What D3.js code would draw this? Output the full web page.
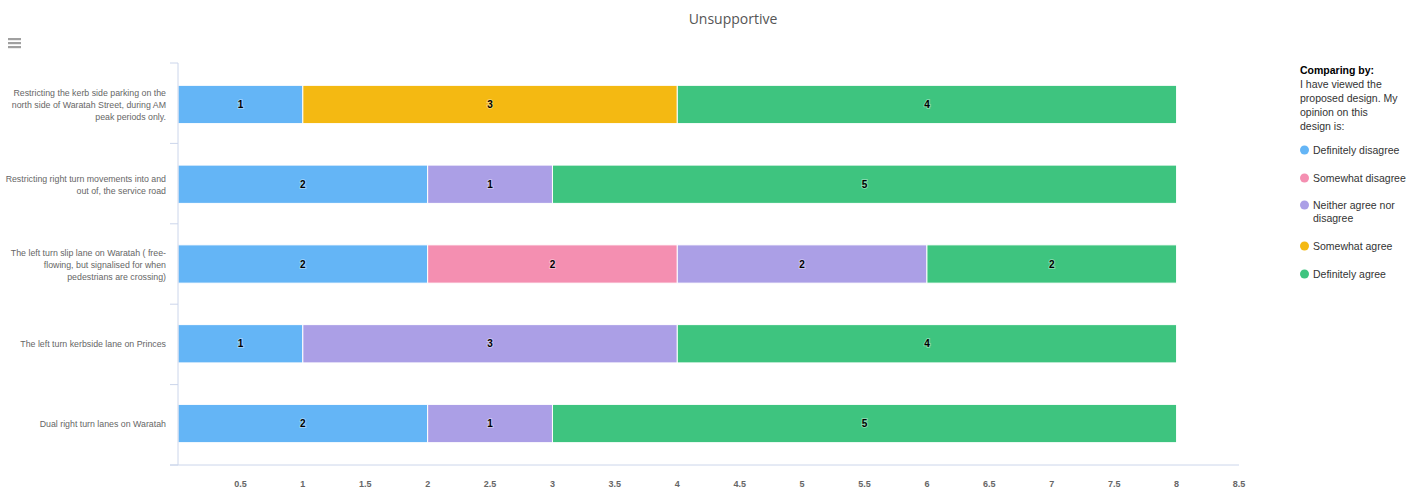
<!DOCTYPE html>
<html>
<head>
<meta charset="utf-8">
<script src="https://cdn.jsdelivr.net/npm/d3@7"></script>
<style>
  html, body { margin: 0; padding: 0; background: #fff; }
  svg { display: block; font-family: "Liberation Sans", Arial, sans-serif; }
</style>
</head>
<body>
<svg id="chart" width="1419" height="491"></svg>
<script>
// Survey statements (rows of the chart)
const categories = [
  "Restricting the kerb side parking on the north side of Waratah Street, during AM peak periods only.",
  "Restricting right turn movements into and out of, the service road",
  "The left turn slip lane on Waratah ( free-flowing, but signalised for when pedestrians are crossing)",
  "The left turn kerbside lane on Princes",
  "Dual right turn lanes on Waratah"
];
// Wrapped label lines for each statement
const categoryLines = [
  ["Restricting the kerb side parking on the", "north side of Waratah Street, during AM", "peak periods only."],
  ["Restricting right turn movements into and", "out of, the service road"],
  ["The left turn slip lane on Waratah ( free-", "flowing, but signalised for when", "pedestrians are crossing)"],
  ["The left turn kerbside lane on Princes"],
  ["Dual right turn lanes on Waratah"]
];

// Response series, in stacking order
const seriesNames = ["Definitely disagree", "Somewhat disagree", "Neither agree nor disagree", "Somewhat agree", "Definitely agree"];
const seriesColors = ["#64b5f6", "#f48fb1", "#ab9fe6", "#f4b912", "#3ec47f"];

const definitelyDisagree = [1, 2, 2, 1, 2];
const somewhatDisagree   = [0, 0, 2, 0, 0];
const neitherAgree       = [0, 1, 2, 3, 1];
const somewhatAgree      = [3, 0, 0, 0, 0];
const definitelyAgree    = [4, 5, 2, 4, 5];
const seriesValues = [definitelyDisagree, somewhatDisagree, neitherAgree, somewhatAgree, definitelyAgree];

const xTicks = [0.5, 1, 1.5, 2, 2.5, 3, 3.5, 4, 4.5, 5, 5.5, 6, 6.5, 7, 7.5, 8, 8.5];

const svg = d3.select("#chart");
const plot = { left: 178, right: 1239, top: 63, bottom: 465 };

const x = d3.scaleLinear().domain([0, 8.5]).range([plot.left, plot.right]);
const y = d3.scaleBand().domain(categories).range([plot.top, plot.bottom]).paddingInner(0.52).paddingOuter(0.28);

// Title
svg.append("text")
  .attr("x", 733).attr("y", 24)
  .attr("text-anchor", "middle")
  .style("font-family", "'Open Sans', sans-serif")
  .style("font-size", "14px")
  .attr("fill", "#555")
  .text("Unsupportive");

// Menu icon
const menu = svg.append("g").attr("transform", "translate(8,38)");
[0, 4, 8].forEach(dy => menu.append("rect")
  .attr("x", 0).attr("y", dy).attr("width", 13).attr("height", 2.2)
  .attr("fill", "#a0a0a0"));

// Stack the data
const rows = categories.map((c, i) => {
  const r = { category: c };
  seriesNames.forEach((s, j) => r[s] = seriesValues[j][i]);
  return r;
});
const stacked = d3.stack().keys(seriesNames)(rows);

// Bars
stacked.forEach((layer, j) => {
  const g = svg.append("g");
  layer.forEach((d, i) => {
    const v = d[1] - d[0];
    if (v <= 0) return;
    g.append("rect")
      .attr("x", x(d[0]))
      .attr("y", y(categories[i]))
      .attr("width", x(d[1]) - x(d[0]))
      .attr("height", y.bandwidth())
      .attr("fill", seriesColors[j])
      .attr("stroke", "#ffffff")
      .attr("stroke-width", 1);
    g.append("text")
      .attr("x", (x(d[0]) + x(d[1])) / 2)
      .attr("y", y(categories[i]) + y.bandwidth() / 2 + 3.5)
      .attr("text-anchor", "middle")
      .style("font-size", "10px")
      .style("font-weight", "bold")
      .attr("fill", "#000")
      .attr("stroke", "rgba(255,255,255,0.35)")
      .attr("stroke-width", 2)
      .attr("paint-order", "stroke")
      .text(v);
  });
});

// Category axis (left)
const step = (plot.bottom - plot.top) / categories.length;
const leftAxis = svg.append("g");
leftAxis.append("line")
  .attr("x1", plot.left).attr("x2", plot.left)
  .attr("y1", plot.top).attr("y2", plot.bottom)
  .attr("stroke", "#ccd6eb").attr("stroke-width", 1);
d3.range(categories.length + 1).forEach(k => {
  leftAxis.append("line")
    .attr("x1", plot.left - 8).attr("x2", plot.left)
    .attr("y1", plot.top + k * step).attr("y2", plot.top + k * step)
    .attr("stroke", "#ccd6eb").attr("stroke-width", 1);
});
categories.forEach((c, i) => {
  const lines = categoryLines[i];
  const lh = 12;
  const cy = y(c) + y.bandwidth() / 2;
  const t = leftAxis.append("text")
    .attr("text-anchor", "end")
    .style("font-size", "8.8px")
    .attr("fill", "#666");
  lines.forEach((ln, k) => {
    t.append("tspan")
      .attr("x", 166)
      .attr("y", cy - (lines.length - 1) * lh / 2 + k * lh + 3.5)
      .text(ln);
  });
});

// Value axis (bottom)
const bottomAxis = svg.append("g");
bottomAxis.append("line")
  .attr("x1", 170).attr("x2", plot.right)
  .attr("y1", plot.bottom).attr("y2", plot.bottom)
  .attr("stroke", "#ccd6eb").attr("stroke-width", 1);
xTicks.forEach(t => {
  bottomAxis.append("text")
    .attr("x", x(t)).attr("y", 487)
    .attr("text-anchor", "middle")
    .style("font-size", "9px")
    .style("font-weight", "bold")
    .attr("fill", "#666")
    .text(t);
});

// Legend
const legend = svg.append("g");
const headLines = ["I have viewed the", "proposed design. My", "opinion on this", "design is:"];
legend.append("text")
  .attr("x", 1300).attr("y", 74)
  .style("font-size", "10.5px").style("font-weight", "bold").attr("fill", "#000")
  .text("Comparing by:");
headLines.forEach((ln, k) => legend.append("text")
  .attr("x", 1300).attr("y", 88 + k * 14)
  .style("font-size", "10.5px").attr("fill", "#333")
  .text(ln));

const legendItems = [
  { name: seriesNames[0], lines: ["Definitely disagree"], y: 150 },
  { name: seriesNames[1], lines: ["Somewhat disagree"], y: 178 },
  { name: seriesNames[2], lines: ["Neither agree nor", "disagree"], y: 205 },
  { name: seriesNames[3], lines: ["Somewhat agree"], y: 246 },
  { name: seriesNames[4], lines: ["Definitely agree"], y: 274 }
];
legendItems.forEach((it, j) => {
  legend.append("circle")
    .attr("cx", 1304.5).attr("cy", it.y)
    .attr("r", 4.5)
    .attr("fill", seriesColors[j]);
  it.lines.forEach((ln, k) => legend.append("text")
    .attr("x", 1313).attr("y", it.y + 4 + k * 13)
    .style("font-size", "10.5px").attr("fill", "#333")
    .text(ln));
});
</script>
</body>
</html>
